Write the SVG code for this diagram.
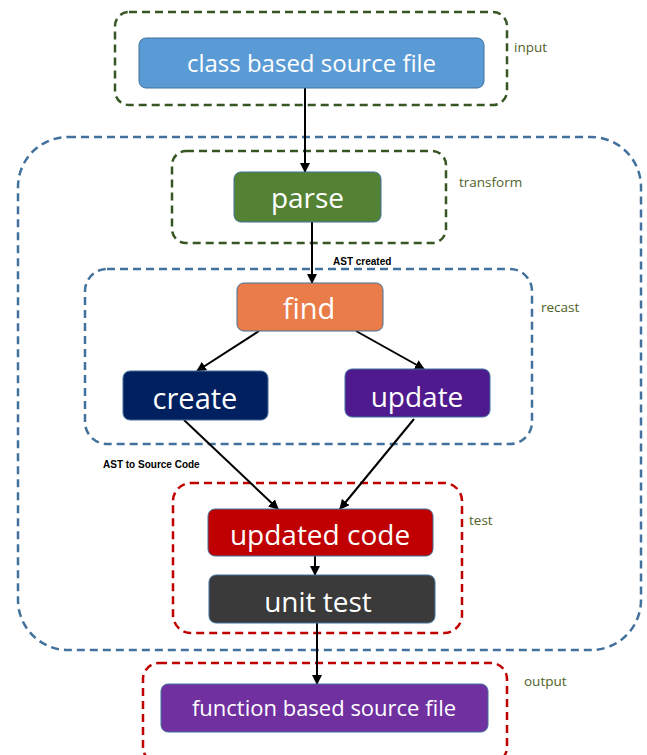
<svg xmlns="http://www.w3.org/2000/svg" width="647" height="755" viewBox="0 0 647 755">
<style>
.grp{fill:none;stroke-width:2.5;stroke-dasharray:8 5}
.g{stroke:#375623}
.b{stroke:#41719c}
.r{stroke:#c00000}
.node{stroke:#41719c;stroke-width:1}
.nt{fill:#fff;font-family:"Open Sans","Liberation Sans",sans-serif;text-anchor:middle}
.lbl{fill:#4f6228;font-family:"Open Sans","Liberation Sans",sans-serif;font-size:13.5px}
.ed{fill:#000;font-family:"Liberation Sans",sans-serif;font-size:10px;font-weight:bold}
.cn{stroke:#000;stroke-width:2;fill:none;marker-end:url(#ah)}
</style>
<defs>
<marker id="ah" viewBox="0 0 10 10" refX="9" refY="5" markerWidth="5" markerHeight="5" orient="auto" markerUnits="strokeWidth">
<path d="M0,0 L10,5 L0,10 z" fill="#000"/>
</marker>
</defs>
<rect width="647" height="755" fill="#fff"/>
<g id="groups">
<rect id="g-main" class="grp b" x="18" y="137" width="623" height="513" rx="50"/>
<rect id="g-input" class="grp g" x="115" y="12" width="392" height="93" rx="14"/>
<rect id="g-transform" class="grp g" x="172" y="151" width="274" height="92" rx="14"/>
<rect id="g-recast" class="grp b" x="85" y="269" width="447" height="175" rx="22"/>
<rect id="g-test" class="grp r" x="173" y="483" width="289" height="150" rx="18"/>
<rect id="g-output" class="grp r" x="143" y="663" width="364" height="100" rx="16"/>
</g>
<g id="group-labels">
<text class="lbl" x="514" y="52">input</text>
<text class="lbl" x="459" y="187">transform</text>
<text class="lbl" x="541" y="312">recast</text>
<text class="lbl" x="469" y="525">test</text>
<text class="lbl" x="524" y="686">output</text>
</g>
<g id="connectors">
<line class="cn" x1="305" y1="88" x2="305" y2="172"/>
<line class="cn" x1="312" y1="222" x2="312" y2="283"/>
<line class="cn" x1="259" y1="331" x2="197" y2="371"/>
<line class="cn" x1="356" y1="331" x2="424" y2="369"/>
<line class="cn" x1="184" y1="420" x2="278" y2="509"/>
<line class="cn" x1="414" y1="419" x2="340" y2="509"/>
<line class="cn" x1="315" y1="556" x2="315" y2="575"/>
<line class="cn" x1="317" y1="623" x2="317" y2="684"/>
<text class="ed" x="333" y="265" font-size="10.5">AST created</text>
<text class="ed" x="103" y="468" font-size="9.5">AST to Source Code</text>
</g>
<g id="n-source">
<rect class="node" x="139" y="38" width="345" height="50" rx="7" fill="#5b9bd5"/>
<text class="nt" x="311.5" y="72" font-size="24">class based source file</text>
</g>
<g id="n-parse">
<rect class="node" x="234" y="172" width="147" height="50" rx="7" fill="#548235"/>
<text class="nt" x="307.5" y="208" font-size="28">parse</text>
</g>
<g id="n-find">
<rect class="node" x="237" y="283" width="146" height="48" rx="7" fill="#e97c48"/>
<text class="nt" x="309" y="319" font-size="29">find</text>
</g>
<g id="n-create">
<rect class="node" x="123" y="371" width="145" height="49" rx="7" fill="#002060"/>
<text class="nt" x="195" y="409" font-size="29">create</text>
</g>
<g id="n-update">
<rect class="node" x="345" y="369" width="145" height="48" rx="7" fill="#4f1a8e"/>
<text class="nt" x="417" y="407" font-size="28">update</text>
</g>
<g id="n-updated">
<rect class="node" x="208" y="509" width="225" height="47" rx="7" fill="#c00000"/>
<text class="nt" x="320" y="545" font-size="28">updated code</text>
</g>
<g id="n-unit">
<rect class="node" x="209" y="575" width="226" height="48" rx="7" fill="#3a3a3a"/>
<text class="nt" x="318" y="612" font-size="28">unit test</text>
</g>
<g id="n-function">
<rect class="node" x="161" y="684" width="327" height="48" rx="7" fill="#7030a0"/>
<text class="nt" x="324" y="716" font-size="22">function based source file</text>
</g>
</svg>
